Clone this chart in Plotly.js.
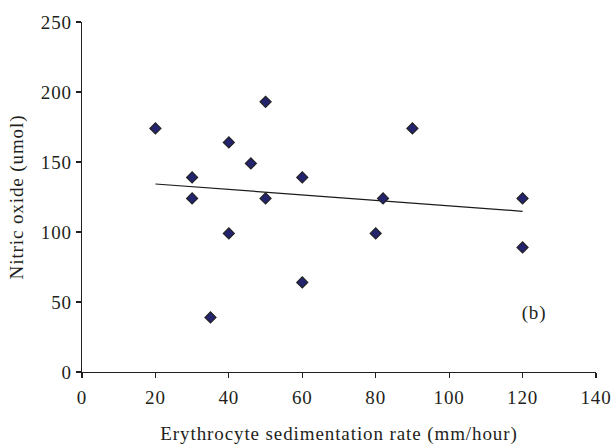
<!DOCTYPE html>
<html>
<head>
<meta charset="utf-8">
<script src="https://cdn.plot.ly/plotly-3.0.1.min.js"></script>
<style>
html,body{margin:0;padding:0;background:#fff;}
#chart{width:612px;height:445px;}
#chart .main-svg text{letter-spacing:0.9px;}
</style>
</head>
<body>
<div id="chart"></div>
<script>
// Erythrocyte sedimentation rate (mm/hour)
const esr = [20, 30, 30, 40, 40, 46, 50, 50, 60, 60, 35, 90, 82, 120, 80, 120];
// Nitric oxide (umol)
const nitricOxide = [174, 139, 124, 164, 99, 149, 193, 124, 139, 64, 39, 174, 124, 124, 99, 89];
// Trend line endpoints
const trendX = [20, 120];
const trendY = [134.3, 114.8];
const xTicks = [0, 20, 40, 60, 80, 100, 120, 140];
const yTicks = [0, 50, 100, 150, 200, 250];

const font = "'Liberation Serif', 'DejaVu Serif', serif";

const traces = [
  {
    x: trendX, y: trendY, mode: 'lines', type: 'scatter',
    line: {color: '#1a1a1a', width: 1.2}, hoverinfo: 'skip', showlegend: false
  },
  {
    x: esr, y: nitricOxide, mode: 'markers', type: 'scatter',
    marker: {symbol: 'diamond', size: 8.5, color: '#23236e', line: {color: '#222222', width: 1.2}},
    showlegend: false
  }
];

const layout = {
  width: 612, height: 445,
  margin: {l: 82, r: 16, t: 22, b: 73},
  paper_bgcolor: '#ffffff', plot_bgcolor: '#ffffff',
  font: {family: font, size: 19, color: '#231f20'},
  xaxis: {
    range: [0, 140], tickvals: xTicks, ticktext: xTicks.map(String),
    showgrid: false, zeroline: false, showline: true, linecolor: '#231f20', linewidth: 1.2,
    ticks: 'outside', ticklen: 5, tickcolor: '#231f20', tickwidth: 1.2,
    ticklabelstandoff: 3,
    title: {text: 'Erythrocyte sedimentation rate (mm/hour)', standoff: 19, font: {size: 19}},
    automargin: false
  },
  yaxis: {
    range: [0, 250], tickvals: yTicks, ticktext: yTicks.map(String),
    showgrid: false, zeroline: false, showline: true, linecolor: '#231f20', linewidth: 1.2,
    ticks: 'outside', ticklen: 5, tickcolor: '#231f20', tickwidth: 1.2,
    title: {text: 'Nitric oxide (umol)', standoff: 14, font: {size: 19}},
    automargin: false
  },
  annotations: [
    {x: 123, y: 42, xref: 'x', yref: 'y', text: '(b)', showarrow: false, font: {size: 19}}
  ]
};

Plotly.newPlot('chart', traces, layout, {displayModeBar: false, staticPlot: true});
</script>
</body>
</html>
